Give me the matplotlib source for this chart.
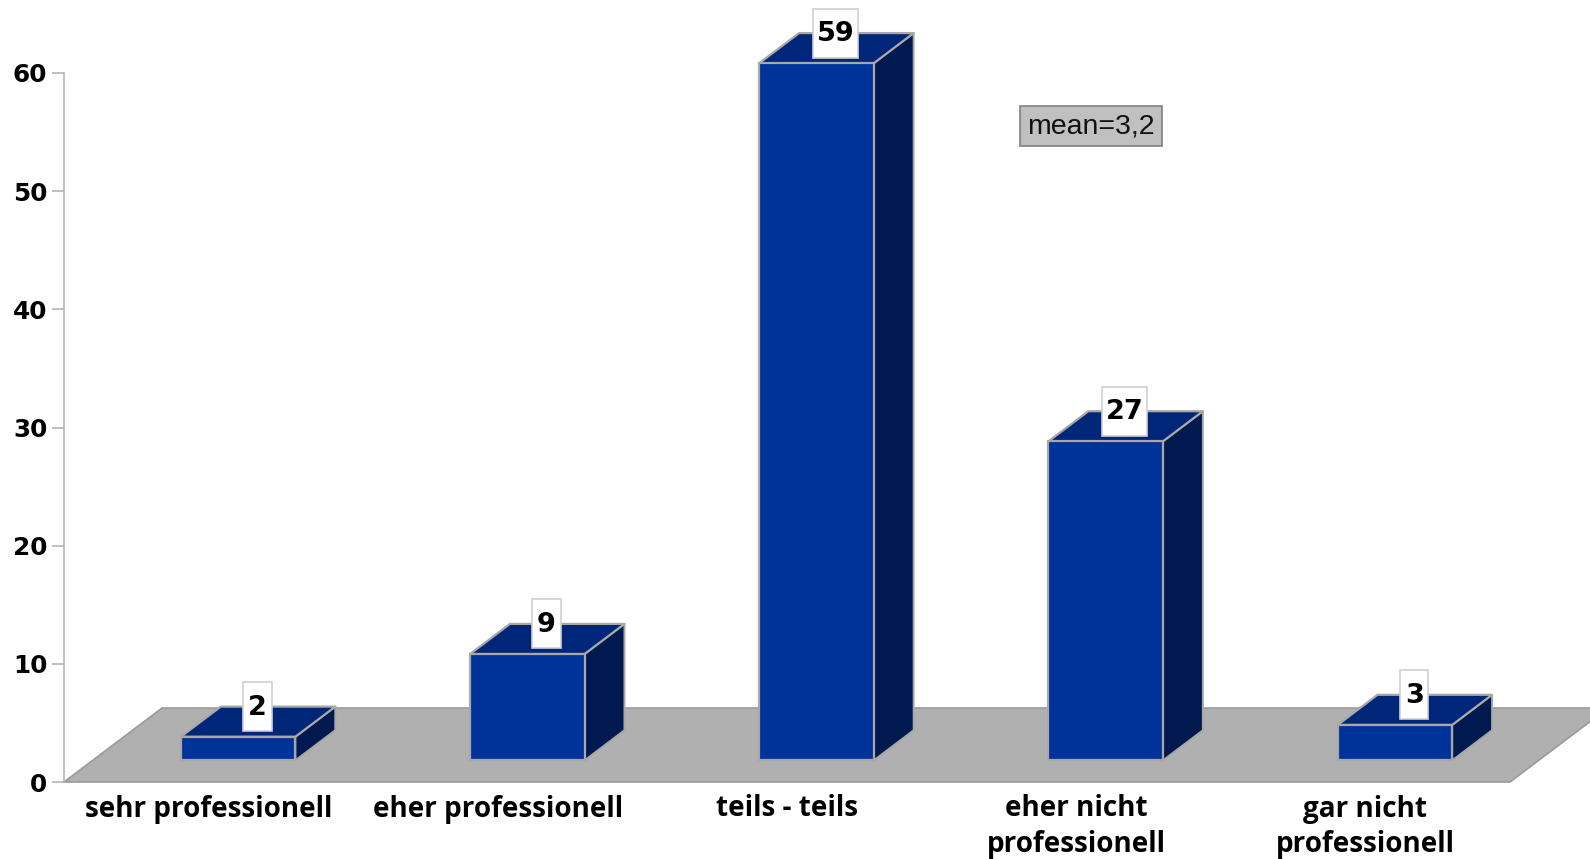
import matplotlib
matplotlib.use("Agg")
import matplotlib.pyplot as plt
from matplotlib.patches import Polygon, Rectangle

categories = ["sehr professionell", "eher professionell", "teils - teils",
              "eher nicht\nprofessionell", "gar nicht\nprofessionell"]
values = [2, 9, 59, 27, 3]
y_ticks = [0, 10, 20, 30, 40, 50, 60]
mean_text = "mean=3,2"

W, H = 1590, 859
fig = plt.figure(figsize=(W / 100, H / 100), dpi=100)
ax = fig.add_axes([64 / W, (H - 782) / H, (1510 - 64) / W, (782 - 73) / H])
ax.set_xlim(-0.5, 4.5)
ax.set_ylim(0, 60)

front = "#003399"
top = "#00267a"
side = "#001a50"
edge = "#a8a8a8"

# 3d offsets in data units
floor_dx = 0.339
floor_dy = 6.26
base_x = 0.102
base_y = 1.83
bar_w = 0.396
dx = 0.138
dy = 2.55


def poly(pts, color, ec=edge, lw=1.6, z=2):
    ax.add_patch(Polygon(pts, closed=True, facecolor=color, edgecolor=ec, linewidth=lw,
                         clip_on=False, zorder=z, joinstyle="round"))


poly([(-0.5, 0), (4.5, 0), (4.5 + floor_dx, floor_dy), (-0.5 + floor_dx, floor_dy)],
     "#b0b0b0", ec="#9a9a9a", lw=1.2, z=1)

for i, v in enumerate(values):
    x0 = i + base_x - bar_w / 2
    x1 = x0 + bar_w
    y1 = base_y + v
    poly([(x1, base_y), (x1 + dx, base_y + dy), (x1 + dx, y1 + dy), (x1, y1)], side, lw=1.4, z=3)
    poly([(x0, y1), (x1, y1), (x1 + dx, y1 + dy), (x0 + dx, y1 + dy)], top, z=3)
    ax.add_patch(Rectangle((x0, base_y), bar_w, v, facecolor=front, edgecolor=edge,
                           linewidth=1.6, clip_on=False, zorder=4))

    # value label box
    cx = i + base_x + 0.133 / 2
    cy = y1 + dy
    box_w = 0.156 if v >= 10 else 0.098
    box_h = 4.15
    ax.add_patch(Rectangle((cx - box_w / 2, cy - box_h / 2), box_w, box_h, facecolor="white",
                           edgecolor="#d0d0d0", linewidth=1.2, clip_on=False, zorder=5))
    ax.text(cx, cy - 0.1, str(v), ha="center", va="center", fontsize=19.5, fontweight="bold",
            family="DejaVu Sans", color="black", zorder=6, clip_on=False)

ax.text(3.05, 55.5, mean_text, ha="center", va="center", fontsize=20.5,
        family="Liberation Sans", color="#111111", zorder=6,
        bbox=dict(boxstyle="square,pad=0.25", facecolor="#c0c0c0", edgecolor="#808080", linewidth=1.2))

for s in ["top", "right"]:
    ax.spines[s].set_visible(False)
ax.spines["left"].set_color("#b4b4b4")
ax.spines["left"].set_linewidth(1.2)
ax.spines["bottom"].set_visible(False)
ax.patch.set_visible(False)

ax.set_yticks(y_ticks)
ax.set_yticklabels([str(t) for t in y_ticks], fontsize=17.8, fontweight="bold", family="DejaVu Sans")
ax.tick_params(axis="y", length=9, width=1.2, color="#b4b4b4", pad=3)
ax.set_xticks(range(len(categories)))
ax.set_xticklabels(categories, fontsize=20.1, fontweight="bold", family="Open Sans", linespacing=1.3)
ax.tick_params(axis="x", length=0, pad=9)

fig.savefig("out.png", dpi=100)
